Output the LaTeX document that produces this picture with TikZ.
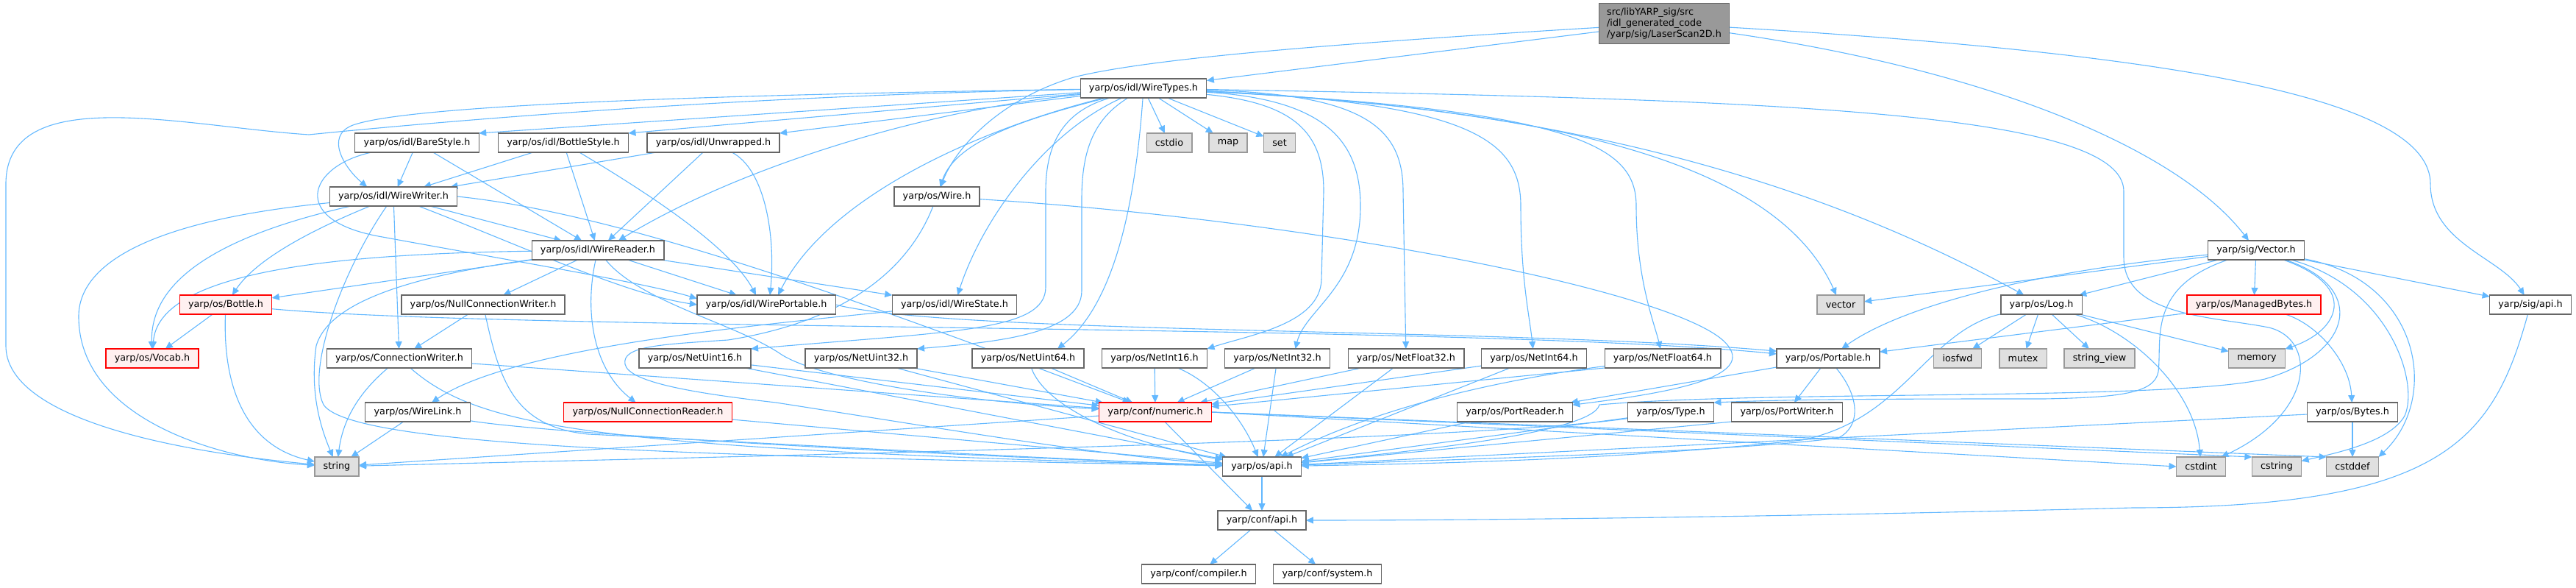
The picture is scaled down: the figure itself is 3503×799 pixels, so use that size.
\documentclass[tikz,border=0pt]{standalone}
\usepackage{fontspec}
\setmainfont{DejaVu Sans}
\usetikzlibrary{arrows.meta,backgrounds}
\definecolor{inclblue}{HTML}{63B8FF}
\definecolor{boxline}{HTML}{666666}
\definecolor{sysline}{HTML}{999999}
\definecolor{sysfill}{HTML}{E0E0E0}
\definecolor{redfill}{HTML}{FFF0F0}
\definecolor{rootfill}{HTML}{999999}
\newcommand{\graphfont}{\fontsize{12.76pt}{15pt}\selectfont}

\begin{document}
\begin{tikzpicture}[x=1pt, y=-1pt,
    >={Triangle[length=10pt, width=9pt]},
    filebox/.style={draw=boxline, fill=white, line width=1.3pt, inner xsep=11.8pt, inner ysep=0pt, minimum height=26pt, outer sep=0pt, font=\graphfont},
    sysbox/.style={filebox, draw=sysline, fill=sysfill},
    redbox/.style={filebox, draw=red, fill=redfill},
    rootbox/.style={filebox, fill=rootfill, align=left, minimum width=177pt, minimum height=55pt, inner xsep=9pt},
    incl/.style={draw=inclblue, line width=1.1pt, ->}]
    \useasboundingbox (0,0) rectangle (3503,799);

    \node (root) [rootbox] at (2263,32) {src/libYARP\_sig/src\\/idl\_generated\_code\\/yarp/sig/LaserScan2D.h};
    \node (wt) [filebox] at (1555,120) {yarp/os/idl/WireTypes.h};
    \node (bare) [filebox] at (567,194) {yarp/os/idl/BareStyle.h};
    \node (bstyle) [filebox] at (766,194) {yarp/os/idl/BottleStyle.h};
    \node (unwr) [filebox] at (970,194) {yarp/os/idl/Unwrapped.h};
    \node (cstdio) [sysbox] at (1590,194) {cstdio};
    \node (map) [sysbox] at (1670,194) {map};
    \node (set) [sysbox] at (1740,194) {set};
    \node (ww) [filebox] at (535,267) {yarp/os/idl/WireWriter.h};
    \node (wire) [filebox] at (1274,267) {yarp/os/Wire.h};
    \node (wr) [filebox] at (813,340) {yarp/os/idl/WireReader.h};
    \node (vec) [filebox] at (3068,340) {yarp/sig/Vector.h};
    \node (bottle) [redbox] at (307,414) {yarp/os/Bottle.h};
    \node (ncw) [filebox] at (657,414) {yarp/os/NullConnectionWriter.h};
    \node (wp) [filebox] at (1042,414) {yarp/os/idl/WirePortable.h};
    \node (ws) [filebox] at (1298,414) {yarp/os/idl/WireState.h};
    \node (vector) [sysbox] at (2503,414) {vector};
    \node (log) [filebox] at (2776,414) {yarp/os/Log.h};
    \node (mbytes) [redbox] at (3065,414) {yarp/os/ManagedBytes.h};
    \node (sigapi) [filebox] at (3441,414) {yarp/sig/api.h};
    \node (vocab) [redbox] at (207,487) {yarp/os/Vocab.h};
    \node (cw) [filebox] at (543,487) {yarp/os/ConnectionWriter.h};
    \node (nu16) [filebox] at (945,487) {yarp/os/NetUint16.h};
    \node (nu32) [filebox] at (1171,487) {yarp/os/NetUint32.h};
    \node (nu64) [filebox] at (1398,487) {yarp/os/NetUint64.h};
    \node (ni16) [filebox] at (1570,487) {yarp/os/NetInt16.h};
    \node (ni32) [filebox] at (1737,487) {yarp/os/NetInt32.h};
    \node (nf32) [filebox] at (1912,487) {yarp/os/NetFloat32.h};
    \node (ni64) [filebox] at (2086,487) {yarp/os/NetInt64.h};
    \node (nf64) [filebox] at (2261,487) {yarp/os/NetFloat64.h};
    \node (portable) [filebox] at (2486,487) {yarp/os/Portable.h};
    \node (iosfwd) [sysbox] at (2662,487) {iosfwd};
    \node (mutex) [sysbox] at (2751,487) {mutex};
    \node (strview) [sysbox] at (2855,487) {string\_view};
    \node (memory) [sysbox] at (3069,487) {memory};
    \node (wl) [filebox] at (568,560) {yarp/os/WireLink.h};
    \node (ncr) [redbox] at (881,560) {yarp/os/NullConnectionReader.h};
    \node (numeric) [redbox] at (1571,560) {yarp/conf/numeric.h};
    \node (preader) [filebox] at (2060,560) {yarp/os/PortReader.h};
    \node (type) [filebox] at (2272,560) {yarp/os/Type.h};
    \node (pwriter) [filebox] at (2430,560) {yarp/os/PortWriter.h};
    \node (bytes) [filebox] at (3199,560) {yarp/os/Bytes.h};
    \node (string) [sysbox] at (458,634) {string};
    \node (osapi) [filebox] at (1716,634) {yarp/os/api.h};
    \node (cstdint) [sysbox] at (2993,634) {cstdint};
    \node (cstring) [sysbox] at (3096,634) {cstring};
    \node (cstddef) [sysbox] at (3199,634) {cstddef};
    \node (confapi) [filebox] at (1716,707) {yarp/conf/api.h};
    \node (compiler) [filebox] at (1630,780) {yarp/conf/compiler.h};
    \node (system) [filebox] at (1805,780) {yarp/conf/system.h};

    \begin{scope}[on background layer]
    \draw[incl] (root) -- (wt);
    \draw[incl] (root) .. controls (1800,60) and (1560,80) .. (1460,105) .. controls (1360,135) and (1300,200) .. (wire);
    \draw[incl] (root) .. controls (2700,95) and (2960,200) .. (vec);
    \draw[incl] (root) .. controls (3000,75) and (3305,140) .. (3305,250) .. controls (3305,330) and (3400,350) .. (sigapi);

    \draw[incl] (wt) -- (bare.north east);
    \draw[incl] (wt) -- (bstyle.north east);
    \draw[incl] (wt) -- (unwr.north east);
    \draw[incl] (wt) .. controls (900,130) and (550,145) .. (480,170) .. controls (440,185) and (470,230) .. (ww.160);
    \draw[incl] (wt) .. controls (1250,150) and (1000,230) .. (wr.25);
    \draw[incl] (wt) .. controls (1350,170) and (1130,260) .. (wp.39);
    \draw[incl] (wt) .. controls (1420,180) and (1335,300) .. (ws);
    \draw[incl] (wt) .. controls (1400,160) and (1300,190) .. (wire);
    \draw[incl] (wt) .. controls (1000,130) and (600,165) .. (420,183) .. controls (250,172) and (8,110) .. (8,250) -- (8,470) .. controls (8,560) and (200,610) .. (string);
    \draw[incl] (wt) -- (cstdio);
    \draw[incl] (wt) -- (map);
    \draw[incl] (wt) -- (set);
    \draw[incl] (wt) .. controls (1450,150) and (1422,190) .. (1422,260) -- (1422,390) .. controls (1422,450) and (1300,450) .. (nu16.north east);
    \draw[incl] (wt) .. controls (1490,160) and (1471,200) .. (1471,270) -- (1471,395) .. controls (1471,455) and (1350,465) .. (nu32.north east);
    \draw[incl] (wt) .. controls (1545,260) and (1520,410) .. (nu64.18);
    \draw[incl] (wt) .. controls (1760,140) and (1800,180) .. (1800,260) -- (1797,380) .. controls (1795,440) and (1700,455) .. (ni16.north east);
    \draw[incl] (wt) .. controls (1800,135) and (1850,190) .. (1850,280) .. controls (1850,390) and (1775,420) .. (ni32.28);
    \draw[incl] (wt) .. controls (1850,128) and (1908,170) .. (1908,260) -- (nf32);
    \draw[incl] (wt) .. controls (2000,140) and (2068,190) .. (2068,280) .. controls (2068,380) and (2080,430) .. (ni64);
    \draw[incl] (wt) .. controls (2150,150) and (2225,200) .. (2225,280) .. controls (2225,380) and (2250,440) .. (nf64);
    \draw[incl] (wt) .. controls (2150,150) and (2420,230) .. (vector);
    \draw[incl] (wt) .. controls (2100,145) and (2450,235) .. (log);
    \draw[incl] (wt) .. controls (2400,135) and (2888,150) .. (2888,260) -- (2888,350) .. controls (2888,430) and (3010,430) .. (3085,445) .. controls (3150,460) and (3150,560) .. (cstdint);

    \draw[incl] (bare) -- (ww);
    \draw[incl] (bare) -- (wr);
    \draw[incl] (bare) .. controls (420,225) and (390,300) .. (520,322) .. controls (700,355) and (880,385) .. (wp.175);
    \draw[incl] (bstyle) -- (ww);
    \draw[incl] (bstyle) -- (wr);
    \draw[incl] (bstyle) .. controls (860,250) and (990,330) .. (wp.137);
    \draw[incl] (unwr) -- (ww);
    \draw[incl] (unwr) -- (wr);
    \draw[incl] (unwr) .. controls (1040,230) and (1055,320) .. (wp.69);

    \draw[incl] (ww) -- (wr);
    \draw[incl] (ww) .. controls (700,330) and (850,400) .. (wp.west);
    \draw[incl] (ww) .. controls (430,310) and (350,350) .. (bottle);
    \draw[incl] (ww) .. controls (300,320) and (204,380) .. (vocab);
    \draw[incl] (ww) .. controls (200,300) and (107,360) .. (107,430) .. controls (107,570) and (300,625) .. (string);
    \draw[incl] (ww) -- (cw);
    \draw[incl] (ww) .. controls (470,360) and (415,500) .. (440,550) .. controls (480,610) and (1000,620) .. (osapi);
    \draw[incl] (ww.east) .. controls (850,290) and (1200,420) .. (numeric);

    \draw[incl] (wr) -- (ws);
    \draw[incl] (wr) -- (wp);
    \draw[incl] (wr) -- (bottle);
    \draw[incl] (wr) .. controls (450,345) and (215,370) .. (vocab);
    \draw[incl] (wr) -- (ncw);
    \draw[incl] (wr) .. controls (795,420) and (805,500) .. (ncr);
    \draw[incl] (wr) .. controls (600,370) and (450,400) .. (430,470) .. controls (420,540) and (440,590) .. (string);
    \draw[incl] (wr) .. controls (870,410) and (1000,440) .. (1060,480) .. controls (1110,515) and (1300,545) .. (numeric);

    \draw[incl] (bottle) -- (vocab);
    \draw[incl] (bottle) .. controls (303,520) and (330,605) .. (string);
    \draw[incl] (bottle) .. controls (700,450) and (2000,440) .. (portable.175);
    \draw[incl] (ncw) -- (cw);
    \draw[incl] (ncw) .. controls (680,520) and (700,580) .. (800,590) .. controls (1100,605) and (1450,625) .. (osapi);
    \draw[incl] (cw) .. controls (480,540) and (465,580) .. (string);
    \draw[incl] (cw) .. controls (650,580) and (800,610) .. (osapi);
    \draw[incl] (cw) -- (numeric);
    \draw[incl] (wl) -- (string);
    \draw[incl] (wl) .. controls (750,590) and (1300,620) .. (osapi);
    \draw[incl] (ncr) -- (osapi);
    \draw[incl] (ws) .. controls (1050,440) and (700,470) .. (wl);
    \draw[incl] (wp.east) .. controls (1300,455) and (2050,445) .. (portable.172);
    \draw[incl] (wire) .. controls (1230,380) and (1130,440) .. (990,462) .. controls (900,468) and (845,470) .. (850,495) .. controls (855,520) and (950,535) .. (1055,547) .. controls (1300,585) and (1500,620) .. (osapi);
    \draw[incl] (wire) .. controls (1800,300) and (2300,400) .. (2350,470) .. controls (2385,515) and (2260,535) .. (preader);

    \draw[incl] (nu16) -- (numeric);
    \draw[incl] (nu16) -- (osapi);
    \draw[incl] (nu32) -- (numeric);
    \draw[incl] (nu32) -- (osapi);
    \draw[incl] (nu64) -- (numeric);
    \draw[incl] (nu64) .. controls (1420,550) and (1520,600) .. (osapi);
    \draw[incl] (ni16) -- (numeric);
    \draw[incl] (ni16) .. controls (1650,520) and (1690,570) .. (osapi);
    \draw[incl] (ni32) -- (numeric);
    \draw[incl] (ni32) -- (osapi);
    \draw[incl] (nf32) -- (numeric);
    \draw[incl] (nf32) -- (osapi);
    \draw[incl] (ni64) -- (numeric);
    \draw[incl] (ni64) -- (osapi);
    \draw[incl] (nf64.south west) -- (numeric);
    \draw[incl] (nf64) .. controls (2050,515) and (1880,550) .. (osapi);

    \draw[incl] (numeric) -- (confapi);
    \draw[incl] (numeric) -- (string);
    \draw[incl] (numeric.east) -- (cstdint.west);
    \draw[incl] (numeric.east) -- (cstring.north west);
    \draw[incl] (numeric.east) -- (cstddef.north west);
    \draw[incl] (osapi) -- (confapi);
    \draw[incl] (confapi) -- (compiler);
    \draw[incl] (confapi) -- (system);

    \draw[incl] (preader) -- (osapi);
    \draw[incl] (type) -- (osapi);
    \draw[incl] (type) .. controls (2000,600) and (1000,620) .. (string);
    \draw[incl] (pwriter.south west) -- (osapi);
    \draw[incl] (portable) -- (preader);
    \draw[incl] (portable) -- (pwriter);
    \draw[incl] (portable) .. controls (2530,540) and (2530,580) .. (2500,595) .. controls (2350,615) and (1950,625) .. (osapi);

    \draw[incl] (log) -- (iosfwd);
    \draw[incl] (log) -- (mutex);
    \draw[incl] (log) -- (strview);
    \draw[incl] (log) -- (memory);
    \draw[incl] (log) .. controls (2900,450) and (2985,530) .. (cstdint);
    \draw[incl] (log) .. controls (2620,450) and (2590,570) .. (2450,598) .. controls (2200,625) and (1950,630) .. (osapi);

    \draw[incl] (vec) -- (vector);
    \draw[incl] (vec) .. controls (2750,370) and (2580,420) .. (portable);
    \draw[incl] (vec) -- (log);
    \draw[incl] (vec) -- (mbytes);
    \draw[incl] (vec) .. controls (3210,390) and (3180,450) .. (memory);
    \draw[incl] (vec) .. controls (3250,390) and (3290,520) .. (3270,565) .. controls (3250,600) and (3180,615) .. (cstring);
    \draw[incl] (vec) .. controls (3290,380) and (3320,540) .. (cstddef.north east);
    \draw[incl] (vec) -- (sigapi);
    \draw[incl] (vec) .. controls (2920,390) and (2940,460) .. (2935,505) .. controls (2930,535) and (2880,540) .. (2780,542) .. controls (2600,542) and (2450,542) .. (type.north east);
    \draw[incl] (vec) .. controls (3220,390) and (3200,480) .. (3080,515) .. controls (2950,545) and (2400,530) .. (2175,550) .. controls (2165,590) and (1900,615) .. (osapi);

    \draw[incl] (mbytes) -- (portable);
    \draw[incl] (mbytes) .. controls (3150,440) and (3195,490) .. (bytes);
    \draw[incl] (bytes) -- (cstddef);
    \draw[incl] (bytes) -- (osapi);
    \draw[incl] (sigapi) .. controls (3390,600) and (3320,690) .. (2900,690) .. controls (2400,703) and (2000,707) .. (confapi);
    \end{scope}
\end{tikzpicture}
\end{document}
